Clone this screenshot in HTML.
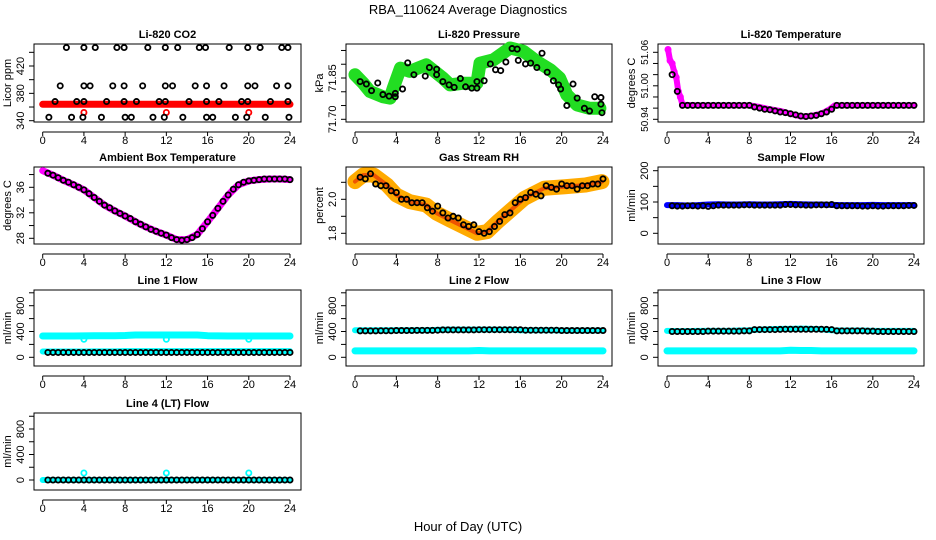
<!DOCTYPE html>
<html><head><meta charset="utf-8"><style>
body{margin:0;background:#fff}
svg{display:block;font-family:"Liberation Sans",Arial,sans-serif}
</style></head><body>
<svg id="chart" width="936" height="540" viewBox="0 0 936 540" xmlns="http://www.w3.org/2000/svg">
<rect width="936" height="540" fill="#fff"/>
<text x="468" y="14" text-anchor="middle" font-size="13">RBA_110624  Average Diagnostics</text>
<text x="468" y="531" text-anchor="middle" font-size="13">Hour of Day (UTC)</text>
</svg>
<script>
const HH=[0.5,1,1.5,2,2.5,3,3.5,4,4.5,5,5.5,6,6.5,7,7.5,8,8.5,9,9.5,10,10.5,11,11.5,12,12.5,13,13.5,14,14.5,15,15.5,16,16.5,17,17.5,18,18.5,19,19.5,20,20.5,21,21.5,22,22.5,23,23.5,24];
const HOURS=[0,1,2,3,4,5,6,7,8,9,10,11,12,13,14,15,16,17,18,19,20,21,22,23,24];
const xTicks=[0,4,8,12,16,20,24];
// CO2
const co2BandH=[0,24];const co2BandV=[364,364];
const co2H=[2.3,4.0,5.1,7.2,7.9,10.2,11.9,13.1,15.2,15.8,18.1,19.9,21.1,23.2,23.8, 1.7,4.0,4.6,6.8,7.9,9.7,11.9,12.6,14.8,15.9,17.6,19.9,20.6,22.7,23.8, 1.2,3.3,4.0,6.2,7.9,9.1,11.3,11.9,14.2,15.9,17.1,19.3,19.9,22.1,23.8, 0.6,2.8,3.9,5.7,8.0,8.6,10.7,11.8,13.6,15.9,16.5,18.7,19.8,21.6,23.9];
const co2V=[447,447,447,447,447,447,447,447,447,447,447,447,447,447,447, 391,391,391,391,391,391,391,391,391,391,391,391,391,391,391, 368,368,368,368,368,368,368,368,368,368,368,368,368,368,368, 345,345,345,345,345,345,345,345,345,345,345,345,345,345,345];
const co2OutH=[4,12,20];const co2OutV=[352,352,352];
// Pressure
const prBandH=[0,0.8,1.45,2.7,3.4,3.7,4.4,5.3,6.9,8.5,9.2,10.5,11.8,12.1,13.4,15.0,16.3,17.6,18.9,19.8,20.5,21.5,22.7,23.7];
const prBandV=[71.862,71.831,71.801,71.782,71.777,71.813,71.886,71.874,71.898,71.850,71.825,71.831,71.831,71.904,71.916,71.959,71.947,71.910,71.880,71.850,71.789,71.752,71.740,71.740];
const prH=[0.5,1.1,1.6,2.2,2.7,3.3,3.9,3.9,4.6,5.1,5.7,6.8,7.2,7.9,7.9,8.5,9.1,9.6,10.2,10.7,11.3,11.8,11.8,12.5,13.1,13.6,14.1,14.6,15.2,15.7,15.8,16.5,17.0,17.6,18.1,18.6,19.2,19.7,19.9,20.5,21.1,21.5,22.2,22.7,23.2,23.8,23.8,23.9];
const prV=[71.837,71.828,71.804,71.832,71.790,71.784,71.794,71.782,71.810,71.905,71.862,71.857,71.888,71.882,71.862,71.837,71.825,71.816,71.848,71.818,71.813,71.837,71.813,71.840,71.901,71.880,71.877,71.908,71.957,71.955,71.914,71.901,71.904,71.888,71.940,71.871,71.840,71.825,71.810,71.750,71.828,71.777,71.740,71.730,71.782,71.779,71.755,71.724];
// Li-820 Temperature
const tmBandH=[0.1,0.3,0.5,0.7,0.9,1.1,1.3,1.5,3,8,9,10,11,12,13,14,15,15.8,16.3,24];
const tmBandV=[51.065,51.045,51.04,51.025,51.015,50.99,50.98,50.966,50.965,50.965,50.962,50.958,50.955,50.95,50.945,50.946,50.95,50.958,50.965,50.965];
const tmV=[51.02,50.99,50.965,50.965,50.965,50.965,50.965,50.965,50.965,50.965,50.965,50.965,50.965,50.965,50.965,50.965,50.962,50.96,50.958,50.957,50.955,50.953,50.952,50.95,50.948,50.946,50.945,50.946,50.947,50.95,50.953,50.958,50.965,50.965,50.965,50.965,50.965,50.965,50.965,50.965,50.965,50.965,50.965,50.965,50.965,50.965,50.965,50.965];
// Ambient
const amBandV=[38.6,37.9,37.1,36.4,35.6,34.4,33.2,32.3,31.5,30.6,29.8,29.1,28.5,27.8,27.8,28.6,30.6,32.7,34.8,36.4,37.0,37.2,37.3,37.3,37.2];
const amV=[38.2,37.9,37.5,37.1,36.8,36.4,36.0,35.6,35.0,34.4,33.8,33.2,32.8,32.3,31.9,31.5,31.1,30.6,30.2,29.8,29.4,29.1,28.8,28.5,28.1,27.8,27.7,27.8,28.1,28.6,29.5,30.6,31.6,32.7,33.8,34.8,35.7,36.4,36.8,37.0,37.1,37.2,37.3,37.3,37.3,37.3,37.3,37.2];
// RH
const rhBandH=[0,0.8,1.8,3.1,4.0,5.3,6.9,7.9,9.2,10.5,11.8,12.8,13.8,15.1,16.4,18.3,20.3,22.3,23.9];
const rhBandV=[2.104,2.143,2.143,2.084,2.025,1.986,1.966,1.918,1.878,1.839,1.80,1.81,1.868,1.937,2.006,2.065,2.074,2.084,2.104];
const rhV=[2.13,2.12,2.15,2.09,2.08,2.08,2.05,2.04,2.0,2.0,1.98,1.98,1.98,1.95,1.93,1.96,1.92,1.89,1.9,1.89,1.85,1.84,1.85,1.81,1.8,1.81,1.84,1.87,1.91,1.92,1.98,2.0,2.01,2.04,2.03,2.02,2.08,2.07,2.06,2.09,2.08,2.08,2.06,2.08,2.08,2.09,2.09,2.12];
// Sample flow
const sfBandV=[90,90,89,90,92,93,92,92,93,92,92,93,94,93,92,92,91,90,90,90,91,90,90,90,90];
const sfV=[88,87,87,88,88,87,88,86,88,90,90,90,90,90,91,91,90,90,90,90,90,90,92,92,91,91,90,90,91,91,91,92,88,88,88,88,88,87,87,88,87,87,88,88,88,88,89,89];
// Line flows
const l1UpV=[330,330,330,330,332,335,335,335,338,345,345,345,345,345,345,345,335,332,330,330,330,330,330,330,330];
const l1LoV=[90,90,90,90,90,92,92,92,95,95,95,95,95,95,95,95,95,95,95,95,95,95,95,95,95];
const l1V=[75,75,75,75,75,75,75,75,75,75,75,75,75,75,75,75,75,75,75,75,75,75,75,75,75,75,75,75,75,75,75,75,75,75,75,75,75,75,75,75,75,75,75,75,75,75,75,75];
const l1OutH=[4,12,20];const l1OutV=[280,280,280];
const l2UpV=[420,420,420,420,420,420,420,420,425,430,430,430,430,430,430,430,420,420,420,420,415,415,415,415,415];
const l2LoV=[100,100,100,100,100,100,100,100,100,100,100,100,105,100,100,100,100,100,100,100,100,100,100,100,100];
const l2V=[410,410,410,410,412,412,412,415,415,415,415,418,418,418,418,420,425,425,425,425,425,425,425,428,428,428,428,428,428,428,428,428,420,420,420,420,420,420,420,415,415,415,415,415,415,415,415,415];
const l3UpV=[410,405,405,410,410,410,410,415,420,430,435,440,440,445,440,435,420,415,415,415,410,410,410,410,410];
const l3LoV=[100,100,100,100,100,100,100,100,100,100,100,100,110,105,105,100,100,100,100,100,100,100,100,100,100];
const l3V=[400,400,400,400,400,400,400,405,405,405,405,405,405,405,410,410,430,430,430,430,430,432,435,435,435,435,435,435,435,435,432,430,410,410,410,410,410,410,405,405,400,400,400,400,400,400,400,400];
const l4BandV=[0,0,0,0,0,0,0,0,0,0,0,0,0,0,0,0,0,0,0,0,0,0,0,0,0];
const l4V=[0,0,0,0,0,0,0,0,0,0,0,0,0,0,0,0,0,0,0,0,0,0,0,0,0,0,0,0,0,0,0,0,0,0,0,0,0,0,0,0,0,0,0,0,0,0,0,0];
const l4OutH=[4,12,20];const l4OutV=[110,110,110];

const NS='http://www.w3.org/2000/svg';
const svg=document.getElementById('chart');
const COLS=[{b0:34,b1:301,x0:42.7,x24:290},{b0:346,b1:612,x0:355,x24:603},{b0:658,b1:924,x0:667,x24:914}];
const ROWS=[{t:44,b:122},{t:167,b:244},{t:290,b:366},{t:413,b:490}];
function mk(tag,at,parent){const e=document.createElementNS(NS,tag);for(const k in at)e.setAttribute(k,at[k]);(parent||svg).appendChild(e);return e;}
function makePanel(o){
  const c=COLS[o.col],r=ROWS[o.row];
  const g=mk('g',{});
  
  
  const xs=h=>c.x0+(c.x24-c.x0)*h/24;
  const ys=v=>o.p0+(o.p1-o.p0)*(v-o.v0)/(o.v1-o.v0);
  const t=mk('text',{x:(c.b0+c.b1)/2,y:r.t-6,'text-anchor':'middle','font-size':11,'font-weight':'bold'},g);
  t.textContent=o.title;
  
  
  const box=mk('rect',{x:c.b0,y:r.t,width:c.b1-c.b0,height:r.b-r.t,fill:'none',stroke:'#000','stroke-width':1},g);
  
  
  const xa=mk('g',{},g);
  
  
  mk('line',{x1:xs(0),x2:xs(24),y1:r.b+10,y2:r.b+10,stroke:'#000'},xa);
  xTicks.forEach(v=>{mk('line',{x1:xs(v),x2:xs(v),y1:r.b+10,y2:r.b+14,stroke:'#000'},xa);
    const l=mk('text',{x:xs(v),y:r.b+22,'text-anchor':'middle','font-size':11},xa);l.textContent=v;
    
    });
  const ya=mk('g',{},g);
  
  
  mk('line',{x1:c.b0,x2:c.b0,y1:ys(o.ticks[0]),y2:ys(o.ticks[o.ticks.length-1]),stroke:'#000'},ya);
  o.ticks.forEach(v=>mk('line',{x1:c.b0-5,x2:c.b0,y1:ys(v),y2:ys(v),stroke:'#000'},ya));
  o.labVals.forEach((v,i)=>{const x=c.b0-10,y=ys(v);
    const l=mk('text',{x:x,y:y,'text-anchor':'middle','font-size':o.lfs||11,transform:`rotate(-90 ${x} ${y})`},ya);l.textContent=o.labs[i];
    
    });
  const yl=mk('text',{x:c.b0-23,y:(r.t+r.b)/2,'text-anchor':'middle','font-size':11,transform:`rotate(-90 ${c.b0-23} ${(r.t+r.b)/2})`},g);
  yl.textContent=o.ylab;
  
  
  return {g,xs,ys,name:o.name};
}
function band(P,hs,vs,color,w,label){
  const pl=mk('polyline',{points:hs.map((h,i)=>P.xs(h)+','+P.ys(vs[i])).join(' '),fill:'none',stroke:color,'stroke-width':w,'stroke-linecap':'round','stroke-linejoin':'round'},P.g);
  
  
}
function pts(P,hs,vs,color,label){
  const g=mk('g',{},P.g);
  
  
  hs.forEach((h,i)=>{const c=mk('circle',{cx:P.xs(h),cy:P.ys(vs[i]),r:2.6,fill:'none',stroke:color,'stroke-width':1.8},g);
    
    });
}
let P;
P=makePanel({col:0,row:0,name:'co2',title:'Li-820 CO2',ylab:'Licor ppm',v0:340,p0:120.7,v1:420,p1:66,ticks:[340,360,380,400,420,440],labVals:[340,380,420],labs:['340','380','420']});
band(P,co2BandH,co2BandV,'#ff0000',7,'red-band');pts(P,co2OutH,co2OutV,'#ff0000','red-outliers');pts(P,co2H,co2V,'#000','black-points');
P=makePanel({col:1,row:0,name:'pressure',title:'Li-820 Pressure',ylab:'kPa',v0:71.70,p0:119.3,v1:71.85,p1:78,ticks:[71.70,71.75,71.80,71.85,71.90,71.95],labVals:[71.70,71.85],labs:['71.70','71.85']});
band(P,prBandH,prBandV,'#22dd22',13,'green-band');pts(P,prH,prV,'#000','black-points');
P=makePanel({col:2,row:0,name:'li820-temp',title:'Li-820 Temperature',ylab:'degrees C',lfs:10,v0:50.94,p0:119.3,v1:51.06,p1:52.3,ticks:[50.94,50.96,50.98,51.00,51.02,51.04,51.06],labVals:[50.94,51.00,51.06],labs:['50.94','51.00','51.06']});
band(P,tmBandH,tmBandV,'#ff00ff',6,'magenta-band');pts(P,tmBandH.slice(0,8),tmBandV.slice(0,8),'#ff00ff','magenta-points');pts(P,HH,tmV,'#000','black-points');
P=makePanel({col:0,row:1,name:'ambient-temp',title:'Ambient Box Temperature',ylab:'degrees C',v0:28,p0:238.3,v1:36,p1:187.3,ticks:[28,30,32,34,36,38],labVals:[28,32,36],labs:['28','32','36']});
band(P,HOURS,amBandV,'#ff00ff',7,'magenta-band');pts(P,HH,amV,'#000','black-points');
P=makePanel({col:1,row:1,name:'gas-rh',title:'Gas Stream RH',ylab:'percent',v0:1.8,p0:233.3,v1:2.0,p1:199.3,ticks:[1.8,1.9,2.0,2.1],labVals:[1.8,2.0],labs:['1.8','2.0']});
band(P,rhBandH,rhBandV,'#ffaa00',15,'orange-band');band(P,rhBandH,rhBandV,'#ee5500',4,'red-band');pts(P,HH,rhV,'#000','black-points');
P=makePanel({col:2,row:1,name:'sample-flow',title:'Sample Flow',ylab:'ml/min',v0:0,p0:233.3,v1:200,p1:170.7,ticks:[0,50,100,150,200],labVals:[0,100,200],labs:['0','100','200']});
band(P,HOURS,sfBandV,'#0000ff',6,'blue-band');pts(P,HH,sfV,'#000','black-points');
const flowT=[0,200,400,600,800,1000],flowL=[0,400,800],flowLs=['0','400','800'];
P=makePanel({col:0,row:2,name:'line1-flow',title:'Line 1 Flow',ylab:'ml/min',v0:0,p0:357.3,v1:800,p1:305.7,ticks:flowT,labVals:flowL,labs:flowLs});
band(P,HOURS,l1UpV,'#00ffff',7,'cyan-upper-band');band(P,HOURS,l1LoV,'#00ffff',6,'cyan-lower-band');pts(P,l1OutH,l1OutV,'#00ffff','cyan-outliers');pts(P,HH,l1V,'#000','black-points');
P=makePanel({col:1,row:2,name:'line2-flow',title:'Line 2 Flow',ylab:'ml/min',v0:0,p0:357.3,v1:800,p1:305.7,ticks:flowT,labVals:flowL,labs:flowLs});
band(P,HOURS,l2UpV,'#00ffff',6,'cyan-upper-band');band(P,HOURS,l2LoV,'#00ffff',7,'cyan-lower-band');pts(P,HH,l2V,'#000','black-points');
P=makePanel({col:2,row:2,name:'line3-flow',title:'Line 3 Flow',ylab:'ml/min',v0:0,p0:357.3,v1:800,p1:305.7,ticks:flowT,labVals:flowL,labs:flowLs});
band(P,HOURS,l3UpV,'#00ffff',6,'cyan-upper-band');band(P,HOURS,l3LoV,'#00ffff',7,'cyan-lower-band');pts(P,HH,l3V,'#000','black-points');
P=makePanel({col:0,row:3,name:'line4-flow',title:'Line 4 (LT) Flow',ylab:'ml/min',v0:0,p0:480,v1:800,p1:429,ticks:flowT,labVals:flowL,labs:flowLs});
band(P,HOURS,l4BandV,'#00ffff',6,'cyan-band');pts(P,l4OutH,l4OutV,'#00ffff','cyan-outliers');pts(P,HH,l4V,'#000','black-points');
</script>
</body></html>
